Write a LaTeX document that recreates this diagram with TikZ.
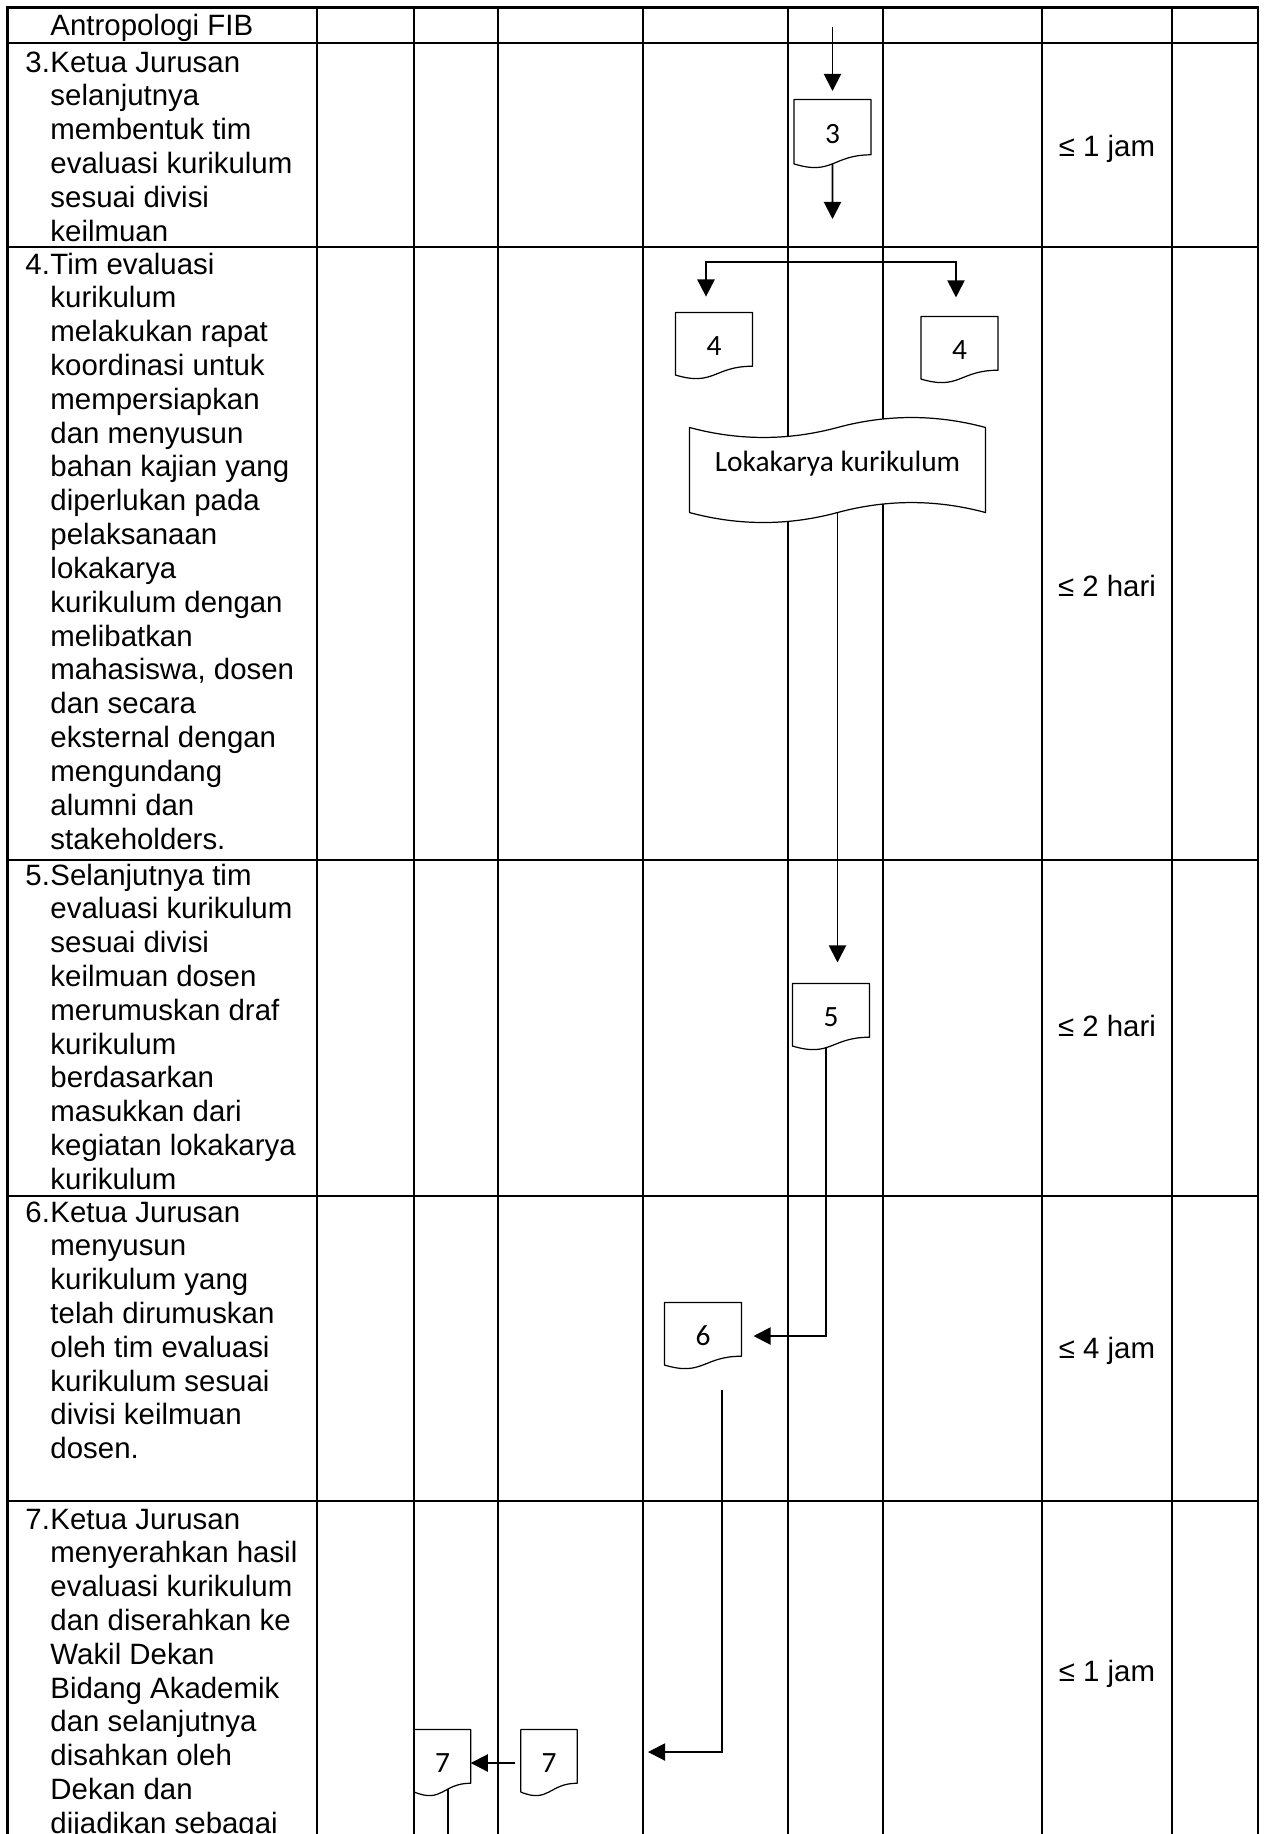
\documentclass[tikz,border=0pt]{standalone}
\usepackage{fontspec}
\setmainfont{Liberation Sans}
\newfontfamily\calfont{Carlito}
\usetikzlibrary{arrows.meta,calc}
\pgfdeclarelayer{tablelayer}
\pgfdeclarelayer{shapelayer}
\pgfsetlayers{tablelayer,shapelayer,main}
\newcommand\docshape[1]{\draw[docline] (#1.north west) -- (#1.north east) -- ($(#1.north east)!0.802!(#1.south east)$) .. controls ($(#1.north)!0.802!(#1.south)$) and ($(#1.north)!1.107!(#1.south)$) .. ($(#1.north west)!0.934!(#1.south west)$) -- cycle;}
\begin{document}
\begin{tikzpicture}[x=0.408pt,y=-0.408pt,
  tbl/.style={line width=0.9pt,line cap=rect},
  conn/.style={line width=0.8pt},
  tipshape/.tip={Triangle[width=7pt,length=7pt]},
  arr/.style={conn,-tipshape},
  docline/.style={line width=0.5pt,line join=round},
  docnode/.style={rectangle,draw=none,inner sep=0pt,minimum width=31pt,minimum height=26.9pt,font=\calfont\fontsize{12}{14}\selectfont},
  narrowdoc/.style={docnode,minimum width=22.6pt},
  txt/.style={inner sep=0pt,anchor=base west,font=\fontsize{12}{13.8}\selectfont},
  dur/.style={inner sep=0pt,anchor=base,font=\fontsize{12}{13.8}\selectfont},
]
\useasboundingbox (0,0) rectangle (1265,1834);
\begin{pgfonlayer}{tablelayer}
\fill[white] (0,0) rectangle (1265,1834);
\foreach \x in {7.5,317,414,498,643,788,883,1042,1172,1258} \draw[tbl] (\x,7.5) -- (\x,1840);
\foreach \y in {7.5,43,247,860,1196,1501} \draw[tbl] (7.5,\y) -- (1258,\y);
\end{pgfonlayer}

% left column texts
\node[txt] (h1) at (50,35) {Antropologi FIB};
\node[txt] (n3) at (25,72) {3.};
\node[txt] (t3) at (50,72) {\begin{tabular}[t]{@{}l@{}}Ketua Jurusan\\selanjutnya\\membentuk tim\\evaluasi kurikulum\\sesuai divisi\\keilmuan\end{tabular}};
\node[txt] (n4) at (25,274) {4.};
\node[txt] (t4) at (50,274) {\begin{tabular}[t]{@{}l@{}}Tim evaluasi\\kurikulum\\melakukan rapat\\koordinasi untuk\\mempersiapkan\\dan menyusun\\bahan kajian yang\\diperlukan pada\\pelaksanaan\\lokakarya\\kurikulum dengan\\melibatkan\\mahasiswa, dosen\\dan secara\\eksternal dengan\\mengundang\\alumni dan\\stakeholders.\end{tabular}};
\node[txt] (n5) at (25,885) {5.};
\node[txt] (t5) at (50,885) {\begin{tabular}[t]{@{}l@{}}Selanjutnya tim\\evaluasi kurikulum\\sesuai divisi\\keilmuan dosen\\merumuskan draf\\kurikulum\\berdasarkan\\masukkan dari\\kegiatan lokakarya\\kurikulum\end{tabular}};
\node[txt] (n6) at (25,1222) {6.};
\node[txt] (t6) at (50,1222) {\begin{tabular}[t]{@{}l@{}}Ketua Jurusan\\menyusun\\kurikulum yang\\telah dirumuskan\\oleh tim evaluasi\\kurikulum sesuai\\divisi keilmuan\\dosen.\end{tabular}};
\node[txt] (n7) at (25,1529) {7.};
\node[txt] (t7) at (50,1529) {\begin{tabular}[t]{@{}l@{}}Ketua Jurusan\\menyerahkan hasil\\evaluasi kurikulum\\dan diserahkan ke\\Wakil Dekan\\Bidang Akademik\\dan selanjutnya\\disahkan oleh\\Dekan dan\\dijadikan sebagai\end{tabular}};

% durations
\node[dur] (du3) at (1107,156) {≤ 1 jam};
\node[dur] (du4) at (1107,596) {≤ 2 hari};
\node[dur] (du5) at (1107,1036) {≤ 2 hari};
\node[dur] (du6) at (1107,1358) {≤ 4 jam};
\node[dur] (du7) at (1107,1681) {≤ 1 jam};

% documents
\node[docnode,minimum height=27.7pt] (d3) at (832.5,134) {3};
\node[docnode] (d4a) at (714,346) {4};
\node[docnode] (d4b) at (959.5,350) {4};
\node[docnode] (d5) at (831,1017) {5};
\node[docnode] (d6) at (703,1336) {6};
\node[narrowdoc] (d7a) at (442.5,1763) {7};
\node[narrowdoc] (d7b) at (549,1763) {7};
\foreach \d in {d3,d4a,d4b,d5,d6,d7a,d7b} {\docshape{\d}}

% Lokakarya
\node[rectangle,draw=none,inner sep=0pt,minimum width=120.4pt,minimum height=34.3pt,text height=6pt,text depth=4.8pt,font=\calfont\fontsize{12}{14}\selectfont] (lok) at (837.5,470) {Lokakarya kurikulum};
\begin{pgfonlayer}{shapelayer}
\draw[docline,fill=white] (lok.north west) .. controls +(49.2,13.3) and +(-49.2,13.3) .. (lok.north) .. controls +(49.2,-13.3) and +(-49.2,-13.3) .. (lok.north east) -- (lok.south east) .. controls +(-49.2,-13.3) and +(49.2,-13.3) .. (lok.south) .. controls +(-49.2,13.3) and +(49.2,13.3) .. (lok.south west) -- cycle;
\end{pgfonlayer}

% connectors
\coordinate (a0) at (832.5,27);
\draw[arr,shorten >=3.5pt] (a0) -- (d3.north);
\coordinate (d3b) at ($(d3.north)!0.933!(d3.south)$);
\coordinate (c3) at (832.5,219);
\draw[arr] (d3b) -- (c3);
\coordinate (sl) at (706,262);
\coordinate (sr) at (956,262);
\draw[conn,tipshape-tipshape,shorten <=6.5pt,shorten >=7.8pt] (sl |- d4a.north) -- (sl) -- (sr) -- (sr |- d4b.north);
\draw[arr,shorten >=8.6pt] (lok.south) -- (lok.south |- d5.north);
\coordinate (d5b) at ([xshift=-2.04pt,yshift=1.1pt]d5.south);
\draw[arr,shorten >=4.9pt] (d5b) |- (d6.east);
\coordinate (s6) at (722,1390);
\coordinate (e7) at (648,1752);
\draw[arr] (s6) |- (e7);
\draw[arr,shorten <=2.4pt] (d7b.west) -- (d7a.east);
\coordinate (d7ab) at ($(d7a.north)!0.888!(d7a.south)+(5.5,0)$);
\coordinate (bot) at (0,1840);
\draw[conn] (d7ab) -- (d7ab |- bot);
\end{tikzpicture}
\end{document}
